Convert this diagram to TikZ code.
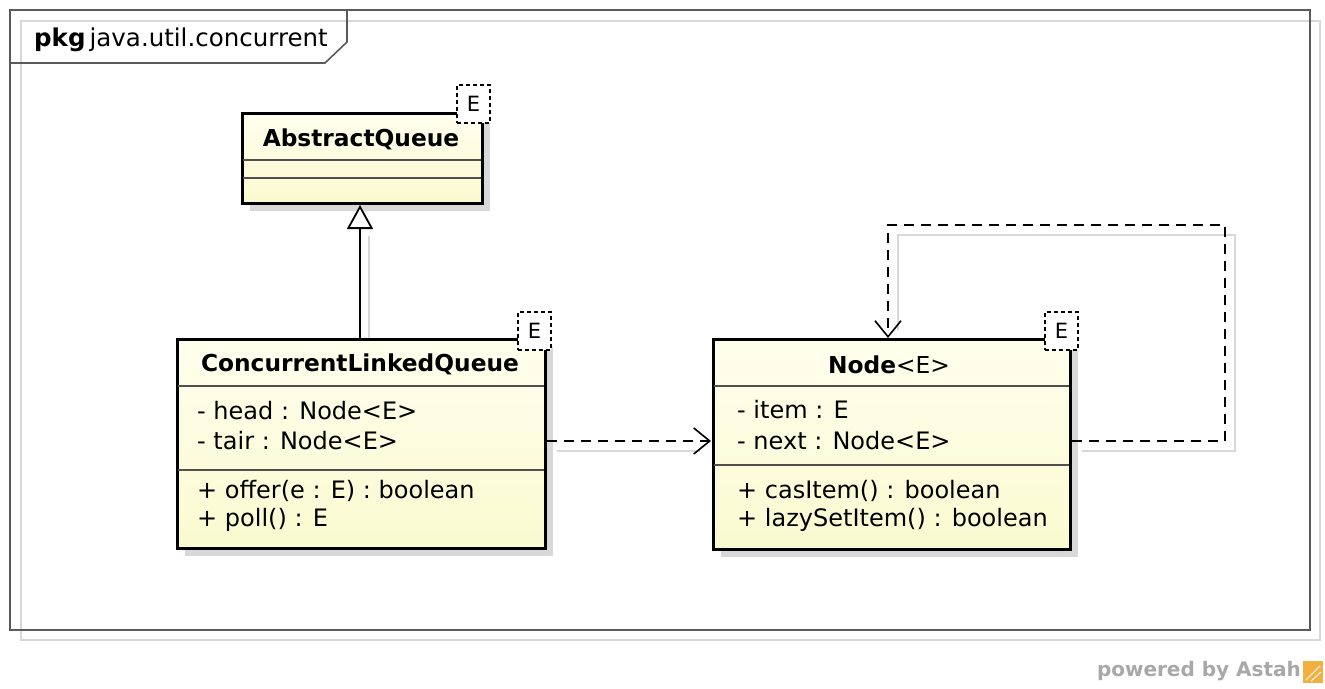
\documentclass[tikz,border=0pt]{standalone}
\usepackage{fontspec}
\setmainfont{DejaVu Sans}
\usetikzlibrary{arrows.meta,calc}
\definecolor{boxtop}{HTML}{FFFFEE}
\definecolor{boxbot}{HTML}{FAFAD0}
\definecolor{shadowgray}{HTML}{D8D8D8}
\definecolor{framegray}{HTML}{5A5A5A}
\definecolor{sepgray}{HTML}{505050}
\definecolor{wmgray}{HTML}{A8A8A8}
\definecolor{iconorange}{HTML}{F2B040}
\tikzset{
  classbox/.style={draw=black, line width=3pt, top color=boxtop, bottom color=boxbot, inner sep=0pt, rectangle},
  boxshadow/.style={fill=shadowgray, draw=none},
  sepline/.style={draw=sepgray, line width=1.3pt},
  tmplbox/.style={draw=black, dashed, dash pattern=on 4pt off 3pt, line width=1.3pt, fill=white, minimum width=33pt, minimum height=38pt, inner sep=0pt, font=\fontsize{21}{24}\selectfont},
  title/.style={font=\fontsize{23.3}{27}\selectfont\bfseries, inner sep=0pt},
  member/.style={font=\fontsize{24}{28}\selectfont, inner sep=0pt, anchor=west},
  depline/.style={draw=black, line width=1.6pt, dash pattern=on 10pt off 7pt},
  connshadow/.style={draw=shadowgray, line width=1.6pt},
  openv/.style={-{Straight Barb[length=16pt,width=26pt,line width=1.6pt]}},
}
\begin{document}
\begin{tikzpicture}[x=1pt,y=-1pt]
\useasboundingbox (0,0) rectangle (1325,688);
\fill[white] (0,0) rectangle (1325,688);

% package frame
\draw[shadowgray, line width=1.5pt] (21,21) rectangle (1320,640);
\draw[framegray, line width=2.2pt] (10,10) rectangle (1310,630);
\draw[framegray, line width=1.6pt] (10,63) -- (325,63) -- (347,42) -- (347,10);
\node[anchor=west, inner sep=0pt, font=\fontsize{24.5}{28}\selectfont] (pkg) at (34,40) {\textbf{pkg}\,java.util.concurrent};

% ---------- AbstractQueue ----------
\fill[boxshadow] (250,121) rectangle (490,211);
\node[classbox, minimum width=240pt, minimum height=90pt] (aq) at (362,158) {};
\draw[sepline] (243,160) -- (481,160);
\draw[sepline] (243,178) -- (481,178);
\node[title] (aqt) at (361,139) {AbstractQueue};
\node[tmplbox] (aqe) at (473.5,104) {E};

% ---------- ConcurrentLinkedQueue ----------
\fill[boxshadow] (185,347) rectangle (553,556);
\node[classbox, minimum width=368pt, minimum height=209pt] (clq) at (361,443.5) {};
\draw[sepline] (178,386) -- (544,386);
\draw[sepline] (178,470) -- (544,470);
\node[title] (clqt) at (360,364) {ConcurrentLinkedQueue};
\node[member] (clqa) at (197,411) {- head : Node<E>};
\node[member] (clqb) at (197,441) {- tair : Node<E>};
\node[member] (clqc) at (197,491) {+ offer(e : E) : boolean};
\node[member] (clqd) at (197,520) {+ poll() : E};
\node[tmplbox] (clqe) at (534.5,331) {E};

% ---------- Node ----------
\fill[boxshadow] (721,347) rectangle (1078,557);
\node[classbox, minimum width=357pt, minimum height=210pt] (nd) at (891.5,444) {};
\draw[sepline] (714,386) -- (1069,386);
\draw[sepline] (714,465) -- (1069,465);
\node[title] (ndt) at (889,365) {Node\mdseries<E>};
\node[member] (nda) at (737,410) {- item : E};
\node[member] (ndb) at (737,441) {- next : Node<E>};
\node[member] (ndc) at (737,491) {+ casItem() : boolean};
\node[member] (ndd) at (737,520) {+ lazySetItem() : boolean};
\node[tmplbox] (nde) at (1061.5,331) {E};

% ---------- connectors ----------
% generalization
\coordinate (g1) at (360,338);
\coordinate (g2) at (360,205);
\draw[connshadow] (369,338) -- (369,236);
\draw[black, line width=2pt, -{Triangle[open, length=24pt, width=26pt, line width=1.8pt, fill=white]}] (g1) -- (g2);

% dependency CLQ -> Node
\coordinate (d1) at (547,441);
\coordinate (d2) at (711,441);
\draw[connshadow] (557,451) -- (700,451);
\draw[depline, openv] (d1) -- (d2);

% self dependency Node -> Node
\coordinate (s0) at (1072,441);
\coordinate (s1) at (1225,441);
\coordinate (s2) at (1225,225);
\coordinate (s3) at (888,225);
\coordinate (s4) at (888,338);
\draw[connshadow] (1082,451) -- (1235,451) -- (1235,235) -- (898,235) -- (898,330);
\draw[depline, openv] (s0) -- (s1) -- (s2) -- (s3) -- (s4);

% ---------- watermark ----------
\node[anchor=east, inner sep=0pt, text=wmgray, font=\fontsize{20}{24}\selectfont\bfseries] (wm) at (1301,671) {powered by Astah};
\fill[iconorange] (1303,661) rectangle (1323,683);
\draw[white, line width=1pt] (1306,680) -- (1320,666);
\draw[white, line width=1pt] (1311,681) -- (1321,672);
\end{tikzpicture}
\end{document}
